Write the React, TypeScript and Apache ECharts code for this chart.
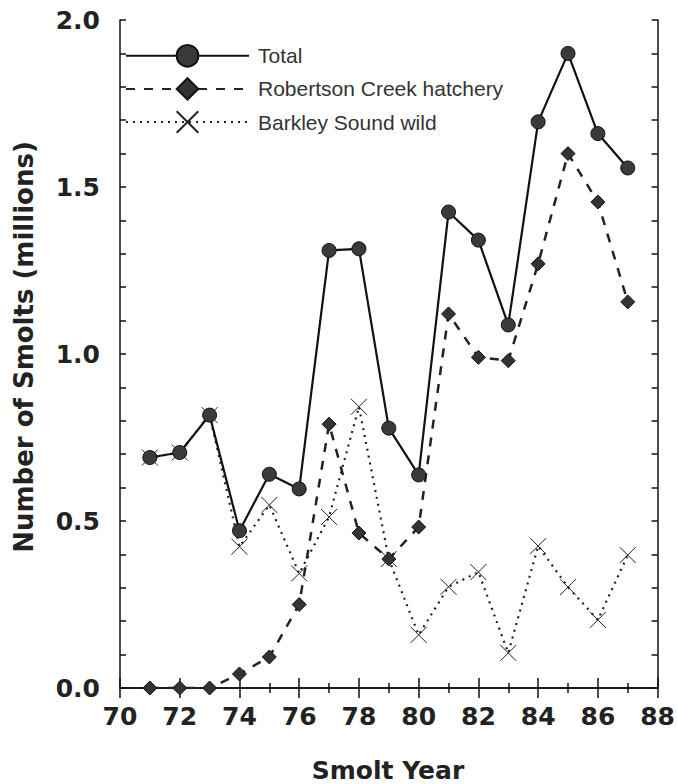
import React, { useEffect, useRef } from "react";
import * as echarts from "echarts";

const years = [71, 72, 73, 74, 75, 76, 77, 78, 79, 80, 81, 82, 83, 84, 85, 86, 87];
const totalValues = [0.69, 0.705, 0.817, 0.471, 0.64, 0.596, 1.31, 1.315, 0.778, 0.638, 1.425, 1.341, 1.087, 1.695, 1.9, 1.66, 1.557];
const hatcheryValues = [0, 0, 0, 0.042, 0.093, 0.25, 0.79, 0.464, 0.386, 0.482, 1.12, 0.99, 0.98, 1.27, 1.6, 1.455, 1.156];
const wildValues = [0.69, 0.705, 0.817, 0.423, 0.548, 0.343, 0.512, 0.842, 0.386, 0.159, 0.303, 0.347, 0.105, 0.425, 0.302, 0.204, 0.398];
const seriesNames = ["Total", "Robertson Creek hatchery", "Barkley Sound wild"];
const xTitle = "Smolt Year";
const yTitle = "Number of Smolts (millions)";

const pair = (vals: number[]) => years.map((y, i) => [y, vals[i]]);

export default function App() {
  const ref = useRef<HTMLDivElement>(null);
  useEffect(() => {
    if (!ref.current) return;
    const chart = echarts.init(ref.current, null, { renderer: "svg" });
    const labelFont = {
      fontFamily: "DejaVu Sans",
      fontWeight: "bold" as const,
      fontSize: 25,
      color: "#222",
    };
    const tickStyle = { color: "#111", width: 1.5 };
    const axisLineStyle = { lineStyle: { color: "#111", width: 1.5 } };
    const titleFont = { fontFamily: "DejaVu Sans", fontWeight: "bold", fontSize: 25, fill: "#222" };
    chart.setOption({
      animation: false,
      backgroundColor: "#fff",
      grid: { left: 120, right: 18, top: 20, bottom: 96, containLabel: false },
      legend: {
        orient: "vertical",
        left: 120,
        top: 39,
        itemWidth: 123,
        itemHeight: 27,
        itemGap: 9.5,
        data: seriesNames,
        textStyle: { fontFamily: "Liberation Sans", fontSize: 21, color: "#333", padding: [0, 0, 0, 4] },
      },
      graphic: [
        {
          type: "text",
          x: 388,
          y: 770,
          style: { text: xTitle, ...titleFont, align: "center", verticalAlign: "middle" },
        },
        {
          type: "text",
          x: 24,
          y: 347,
          rotation: Math.PI / 2,
          style: { text: yTitle, ...titleFont, fontSize: 26, align: "center", verticalAlign: "middle" },
        },
      ],
      xAxis: [
        {
          type: "value",
          min: 70,
          max: 88,
          interval: 2,
          position: "bottom",
          axisLine: axisLineStyle,
          axisTick: { inside: true, length: 10, lineStyle: tickStyle },
          minorTick: { show: true, splitNumber: 2, length: 5, lineStyle: tickStyle },
          splitLine: { show: false },
          axisLabel: { ...labelFont, margin: 16 },
        },
        {
          type: "value",
          min: 70,
          max: 88,
          interval: 2,
          position: "top",
          axisLine: axisLineStyle,
          axisTick: { inside: true, length: 10, lineStyle: tickStyle },
          minorTick: { show: true, splitNumber: 2, length: 5, lineStyle: tickStyle },
          splitLine: { show: false },
          axisLabel: { show: false },
        },
      ],
      yAxis: [
        {
          type: "value",
          min: 0,
          max: 2,
          interval: 0.5,
          position: "left",
          axisLine: { show: true, ...axisLineStyle },
          axisTick: { show: true, inside: true, length: 6, lineStyle: tickStyle },
          minorTick: { show: true, splitNumber: 5, length: 6, lineStyle: tickStyle },
          splitLine: { show: false },
          axisLabel: { ...labelFont, margin: 20, formatter: (v: number) => v.toFixed(1) },
        },
        {
          type: "value",
          min: 0,
          max: 2,
          interval: 0.5,
          position: "right",
          axisLine: { show: true, ...axisLineStyle },
          axisTick: { show: true, inside: true, length: 6, lineStyle: tickStyle },
          minorTick: { show: true, splitNumber: 5, length: 6, lineStyle: tickStyle },
          splitLine: { show: false },
          axisLabel: { show: false },
        },
      ],
      series: [
        {
          name: "Barkley Sound wild",
          type: "line",
          data: pair(wildValues),
          symbol: "path://M0,0L10,10M10,0L0,10",
          symbolSize: 16,
          lineStyle: { color: "#222", width: 2.2, type: [2, 5] },
          itemStyle: { color: "#222", borderColor: "#222", borderWidth: 1 },
          z: 2,
        },
        {
          name: "Robertson Creek hatchery",
          type: "line",
          data: pair(hatcheryValues),
          symbol: "diamond",
          symbolSize: 14,
          lineStyle: { color: "#222", width: 2.5, type: [9, 9] },
          itemStyle: { color: "#333", borderColor: "#111", borderWidth: 1 },
          z: 3,
        },
        {
          name: "Total",
          type: "line",
          data: pair(totalValues),
          symbol: "circle",
          symbolSize: 14,
          lineStyle: { color: "#111", width: 2.2 },
          itemStyle: { color: "#3a3a3a", borderColor: "#111", borderWidth: 1 },
          z: 4,
        },
      ],
    });
    return () => chart.dispose();
  }, []);
  return <div ref={ref} style={{ width: 678, height: 784, position: "absolute", left: 0, top: 0 }} />;
}
